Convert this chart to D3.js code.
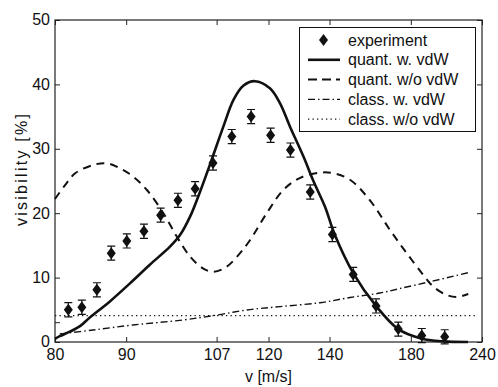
<!DOCTYPE html>
<html>
    <head>
        <script src="https://d3js.org/d3.v7.min.js"></script>
        <style>
          body { margin: 0; background: #fff; }
          #chart { width: 498px; height: 387px; }
          text { font-family: "Liberation Sans", Arial, Helvetica, sans-serif; fill: #111; }
      </style>
    </head>
    <body>
        <div id="chart"></div>
        <script>

            /* DATA */
            var xTicks = [80, 90, 107, 120, 140, 180, 240];
            var yTicks = [0, 10, 20, 30, 40, 50];

            // experiment
            var vExp   = [81.7, 83.5, 85.6, 87.7, 90.1, 92.9, 95.8, 99.0, 102.4, 106.2, 110.5, 115.3, 120.6, 126.5, 133.0, 141.1, 149.7, 160.4, 172.4, 187.2, 204.3];
            var visExp = [5.0, 5.4, 8.1, 13.8, 15.7, 17.2, 19.7, 22.0, 23.8, 27.8, 31.9, 35.0, 32.1, 29.8, 23.3, 16.7, 10.5, 5.6, 2.0, 1.0, 0.8];
            var errExp = [1.1, 1.1, 1.1, 1.1, 1.1, 1.1, 1.1, 1.1, 1.1, 1.1, 1.1, 1.1, 1.1, 1.1, 1.1, 1.1, 1.1, 1.1, 1.1, 1.1, 1.1];

            // quant. w. vdW
            var vQw   = [80, 80.6, 81.9, 83.3, 84.6, 87.5, 90.6, 93.9, 97.5, 99.4, 101.4, 103.4, 105.9, 108.5, 110.9, 113.3, 116.3, 120.4, 123.3, 126.4, 130.7, 134.1, 138.3, 142.1, 149.7, 160.4, 172.4, 186.0, 203.2, 225.2];
            var visQw = [0.5, 0.9, 1.6, 2.5, 3.8, 6.3, 9.1, 12.0, 14.8, 16.6, 19.5, 23.3, 28.3, 33.4, 37.6, 39.8, 40.5, 39.4, 37.1, 33.4, 28.8, 25.0, 21.0, 16.6, 10.7, 5.6, 2.0, 0.6, 0.1, 0.0];

            // quant. w/o vdW
            var vQwo   = [80, 81.3, 82.6, 85.1, 87.0, 89.0, 91.1, 93.4, 96.3, 98.8, 101.4, 104.1, 106.3, 109.3, 112.5, 115.0, 119.5, 124.3, 129.6, 136.5, 141.5, 148.3, 157.4, 167.7, 177.4, 188.3, 195.4, 205.9, 214.6, 225.5];
            var visQwo = [22.2, 24.4, 26.2, 27.5, 27.75, 27.0, 25.7, 23.6, 20.0, 16.35, 13.25, 11.4, 10.9, 11.7, 13.8, 15.8, 20.0, 23.6, 25.5, 26.3, 26.2, 25.2, 22.0, 17.4, 13.8, 10.4, 8.6, 7.3, 7.0, 7.45];

            // class. w. vdW
            var vCw   = [80.6, 85.05, 91.1, 100.0, 107.1, 114.2, 123.3, 136.5, 148.3, 162.4, 173.4, 193.0, 225.2];
            var visCw = [1.24, 1.86, 2.64, 3.42, 4.19, 4.97, 5.5, 6.1, 6.91, 7.6, 8.31, 9.36, 10.76];

            // class. w/o vdW
            var vCwo   = [80, 235];
            var visCwo = [4.1, 4.1];

            var legendLabels = ["experiment", "quant. w. vdW", "quant. w/o vdW", "class. w. vdW", "class. w/o vdW"];

            /* DIMENSIONS */
            var width = 498, height = 387;
            var margin = {top: 20, right: 16, bottom: 45, left: 55};
            var svg = d3.select("#chart")
                .append("svg")
                .attr("width", width)
                .attr("height", height);

            // the velocity axis is linear in 1/v
            var x = d3.scaleLinear()
                .domain([1 / 80, 1 / 240])
                .range([margin.left, width - margin.right]);
            var y = d3.scaleLinear()
                .domain([0, 50])
                .range([height - margin.bottom, margin.top]);
            var xv = function(v) { return x(1 / v); };

            var tickFont = "16px";

            /* AXES */
            var fmtV = function(d) { return Math.round(1 / d); };
            var xInv = xTicks.map(function(v) { return 1 / v; });

            var gx = svg.append("g")
                .attr("transform", "translate(0," + y(0) + ")")
                .call(d3.axisBottom(x).tickValues(xInv).tickFormat(fmtV).tickSizeInner(-5).tickSizeOuter(0).tickPadding(8));
            var gxt = svg.append("g")
                .attr("transform", "translate(0," + y(50) + ")")
                .call(d3.axisTop(x).tickValues(xInv).tickFormat("").tickSizeInner(-5).tickSizeOuter(0));
            var gy = svg.append("g")
                .attr("transform", "translate(" + margin.left + ",0)")
                .call(d3.axisLeft(y).tickValues(yTicks).tickSizeInner(-5).tickSizeOuter(0).tickPadding(5));
            var gyr = svg.append("g")
                .attr("transform", "translate(" + (width - margin.right) + ",0)")
                .call(d3.axisRight(y).tickValues(yTicks).tickFormat("").tickSizeInner(-5).tickSizeOuter(0));

            // small unlabelled tick seen on the left axis
            svg.append("line")
                .attr("x1", margin.left).attr("x2", margin.left + 5)
                .attr("y1", y(3)).attr("y2", y(3))
                .attr("stroke", "#222").attr("stroke-width", 1);

            [gx, gxt, gy, gyr].forEach(function(g) {
                g.select(".domain").remove();
                g.selectAll(".tick line").attr("stroke", "#222").attr("stroke-width", 1);
                g.selectAll(".tick text").style("font-size", tickFont).attr("fill", "#111");
            });
            gx.selectAll(".tick text").attr("dy", "0.6em");
            gy.selectAll(".tick text").attr("dy", "0.3em");

            // frame
            svg.append("rect")
                .attr("x", margin.left)
                .attr("y", margin.top)
                .attr("width", width - margin.left - margin.right)
                .attr("height", height - margin.top - margin.bottom)
                .attr("fill", "none")
                .attr("stroke", "#222")
                .attr("stroke-width", 1.2);

            // axis titles
            svg.append("text")
                .attr("x", (margin.left + width - margin.right) / 2)
                .attr("y", 382)
                .attr("text-anchor", "middle")
                .style("font-size", tickFont)
                .text("v [m/s]");
            svg.append("text")
                .attr("transform", "translate(27,170) rotate(-90)")
                .attr("text-anchor", "middle")
                .attr("textLength", 112)
                .attr("lengthAdjust", "spacing")
                .style("font-size", tickFont)
                .text("visibility [%]");

            /* CURVES */
            var line = d3.line()
                .x(function(d) { return xv(d[0]); })
                .y(function(d) { return y(d[1]); })
                .curve(d3.curveCatmullRom.alpha(0.5));

            var zip = function(a, b) { return a.map(function(v, i) { return [v, b[i]]; }); };

            var styles = [
                {data: zip(vCwo, visCwo), width: 1.3, dash: "1.3,3.2"},
                {data: zip(vCw, visCw), width: 1.4, dash: "7,3,1.5,3"},
                {data: zip(vQwo, visQwo), width: 2, dash: "8,6"},
                {data: zip(vQw, visQw), width: 2.6, dash: null}
            ];

            svg.append("g")
                .selectAll("path")
                .data(styles)
                .enter()
                .append("path")
                    .attr("d", function(d) { return line(d.data); })
                    .attr("fill", "none")
                    .attr("stroke", "#111")
                    .attr("stroke-width", function(d) { return d.width; })
                    .attr("stroke-dasharray", function(d) { return d.dash; });

            /* EXPERIMENT POINTS */
            var diamond = "M0,-6L4.5,0L0,6L-4.5,0Z";
            var exp = vExp.map(function(v, i) { return {v: v, y: visExp[i], e: errExp[i]}; });

            var pts = svg.append("g")
                .selectAll("g")
                .data(exp)
                .enter()
                .append("g")
                    .attr("transform", function(d) { return "translate(" + xv(d.v) + ",0)"; });

            pts.append("path")
                .attr("d", function(d) {
                    var t = y(d.y + d.e), b = y(d.y - d.e);
                    return "M0," + t + "V" + b + "M-4," + t + "H4M-4," + b + "H4";
                })
                .attr("stroke", "#111")
                .attr("stroke-width", 1.2)
                .attr("fill", "none");
            pts.append("path")
                .attr("d", diamond)
                .attr("transform", function(d) { return "translate(0," + y(d.y) + ")"; })
                .attr("fill", "#111");

            /* LEGEND */
            var lg = svg.append("g");
            lg.append("rect")
                .attr("x", 299.5).attr("y", 27.5)
                .attr("width", 176).attr("height", 104)
                .attr("fill", "#fff")
                .attr("stroke", "#111")
                .attr("stroke-width", 1);

            var legendStyles = [null, styles[3], styles[2], styles[1], styles[0]];
            var row = lg.selectAll("g.row")
                .data(legendLabels)
                .enter()
                .append("g")
                    .attr("class", "row")
                    .attr("transform", function(d, i) { return "translate(0," + (40 + i * 19.8) + ")"; });

            row.each(function(d, i) {
                var g = d3.select(this);
                var s = legendStyles[i];
                if (s === null) {
                    g.append("path").attr("d", diamond).attr("transform", "translate(323.5,0)").attr("fill", "#111");
                } else {
                    g.append("line")
                        .attr("x1", 308).attr("x2", 340)
                        .attr("stroke", "#111")
                        .attr("stroke-width", s.width)
                        .attr("stroke-dasharray", i === 2 ? "9,5" : s.dash);
                }
            });

            row.append("text")
                .attr("x", 348)
                .attr("dy", "0.35em")
                .style("font-size", tickFont)
                .text(function(d) { return d; });

        </script>
    </body>
</html>
